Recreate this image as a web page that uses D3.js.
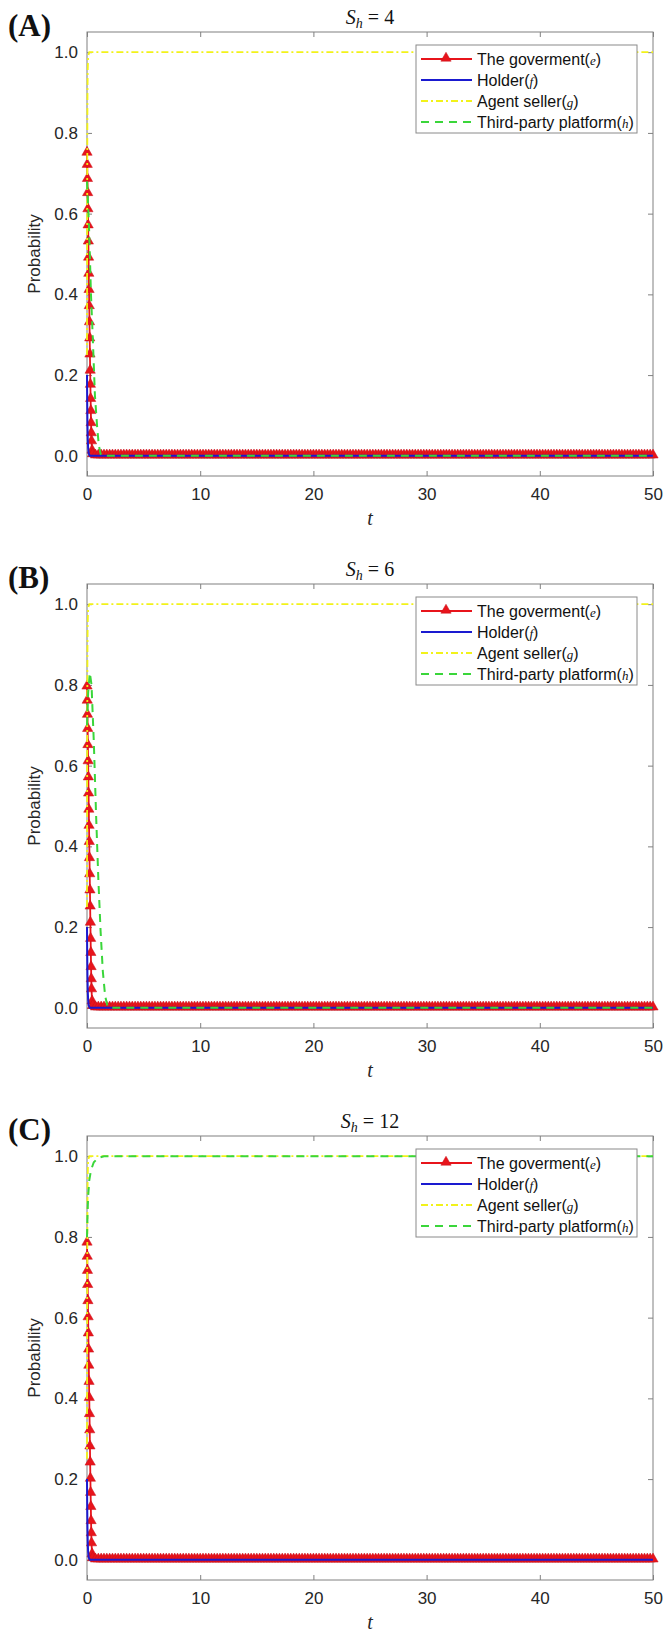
<!DOCTYPE html>
<html>
<head>
<meta charset="utf-8">
<script src="https://cdn.jsdelivr.net/npm/d3@7"></script>
<style>
  body { margin: 0; background: #fff; }
  svg { display: block; }
</style>
</head>
<body>
<div id="chart"></div>
<script>
// panel labels and parameter values
const panelNames = ["(A)", "(B)", "(C)"];
const shValues = [4, 6, 12];

const xTicks = [0, 10, 20, 30, 40, 50];
const yTicks = [0, 0.2, 0.4, 0.6, 0.8, 1.0];

const seriesNames = ["The goverment", "Holder", "Agent seller", "Third-party platform"];
const seriesVars = ["e", "f", "g", "h"];

// the goverment (e): steep start, then sits on zero until t = 50
const govHeadT = [0, 0.02, 0.04, 0.06, 0.08, 0.1, 0.12, 0.14, 0.16, 0.18, 0.2, 0.22,
                  0.24, 0.26, 0.28, 0.3, 0.32, 0.34, 0.36, 0.38, 0.4, 0.45, 0.5];
const govHeadA = [0.75, 0.72, 0.685, 0.65, 0.61, 0.57, 0.53, 0.49, 0.45, 0.41, 0.37, 0.33,
                  0.29, 0.25, 0.21, 0.175, 0.14, 0.11, 0.08, 0.055, 0.035, 0.012, 0.003];
const govHeadB = [0.795, 0.76, 0.725, 0.69, 0.65, 0.61, 0.57, 0.53, 0.49, 0.45, 0.41, 0.37,
                  0.33, 0.29, 0.25, 0.21, 0.17, 0.135, 0.1, 0.07, 0.045, 0.015, 0.004];
const govHeadC = [0.785, 0.75, 0.715, 0.68, 0.64, 0.6, 0.56, 0.52, 0.48, 0.44, 0.4, 0.36,
                  0.32, 0.28, 0.24, 0.2, 0.165, 0.13, 0.095, 0.065, 0.04, 0.013, 0.003];
const govTailT = [
  0.75, 1, 1.25, 1.5, 1.75, 2, 2.25, 2.5, 2.75, 3, 3.25, 3.5, 3.75, 4, 4.25, 4.5, 4.75, 5,
  5.25, 5.5, 5.75, 6, 6.25, 6.5, 6.75, 7, 7.25, 7.5, 7.75, 8, 8.25, 8.5, 8.75, 9, 9.25, 9.5, 9.75, 10,
  10.25, 10.5, 10.75, 11, 11.25, 11.5, 11.75, 12, 12.25, 12.5, 12.75, 13, 13.25, 13.5, 13.75, 14,
  14.25, 14.5, 14.75, 15, 15.25, 15.5, 15.75, 16, 16.25, 16.5, 16.75, 17, 17.25, 17.5, 17.75, 18,
  18.25, 18.5, 18.75, 19, 19.25, 19.5, 19.75, 20,
  20.25, 20.5, 20.75, 21, 21.25, 21.5, 21.75, 22, 22.25, 22.5, 22.75, 23, 23.25, 23.5, 23.75, 24,
  24.25, 24.5, 24.75, 25, 25.25, 25.5, 25.75, 26, 26.25, 26.5, 26.75, 27, 27.25, 27.5, 27.75, 28,
  28.25, 28.5, 28.75, 29, 29.25, 29.5, 29.75, 30,
  30.25, 30.5, 30.75, 31, 31.25, 31.5, 31.75, 32, 32.25, 32.5, 32.75, 33, 33.25, 33.5, 33.75, 34,
  34.25, 34.5, 34.75, 35, 35.25, 35.5, 35.75, 36, 36.25, 36.5, 36.75, 37, 37.25, 37.5, 37.75, 38,
  38.25, 38.5, 38.75, 39, 39.25, 39.5, 39.75, 40,
  40.25, 40.5, 40.75, 41, 41.25, 41.5, 41.75, 42, 42.25, 42.5, 42.75, 43, 43.25, 43.5, 43.75, 44,
  44.25, 44.5, 44.75, 45, 45.25, 45.5, 45.75, 46, 46.25, 46.5, 46.75, 47, 47.25, 47.5, 47.75, 48,
  48.25, 48.5, 48.75, 49, 49.25, 49.5, 49.75, 50
];
const govTailValue = 0;

// holder (f)
const holderT = [0, 0.02, 0.04, 0.07, 0.1, 0.15, 0.25, 50];
const holderA = [0.2, 0.13, 0.08, 0.04, 0.02, 0.006, 0, 0];
const holderB = [0.2, 0.13, 0.08, 0.04, 0.02, 0.006, 0, 0];
const holderC = [0.2, 0.13, 0.08, 0.04, 0.02, 0.006, 0, 0];

// agent seller (g)
const agentT = [0, 0.01, 0.02, 0.04, 0.06, 0.1, 0.2, 50];
const agentA = [0.25, 0.5, 0.7, 0.88, 0.95, 0.99, 1, 1];
const agentB = [0.25, 0.5, 0.7, 0.88, 0.95, 0.99, 1, 1];
const agentC = [0.25, 0.5, 0.7, 0.88, 0.95, 0.99, 1, 1];

// third-party platform (h)
const platformTA = [0, 0.1, 0.2, 0.35, 0.5, 0.7, 0.9, 1.05, 1.2, 1.4, 50];
const platformA  = [0.68, 0.62, 0.55, 0.4, 0.3, 0.15, 0.07, 0.025, 0.005, 0, 0];
const platformTB = [0, 0.1, 0.25, 0.4, 0.6, 0.8, 1.0, 1.2, 1.4, 1.6, 1.8, 2.0, 50];
const platformB  = [0.7, 0.78, 0.83, 0.8, 0.66, 0.48, 0.32, 0.19, 0.09, 0.03, 0.005, 0, 0];
const platformTC = [0, 0.05, 0.1, 0.2, 0.35, 0.6, 1.0, 1.5, 50];
const platformC  = [0.8, 0.86, 0.9, 0.94, 0.965, 0.985, 0.996, 1, 1];

const colors = ["#e8141b", "#1a1ad0", "#f2f21a", "#3ad63a"];

const zip = (ts, vs) => ts.map((t, i) => ({ t: t, v: vs[i] }));

const panels = [
  { gov: govHeadA, holder: holderA, agent: agentA, platT: platformTA, plat: platformA },
  { gov: govHeadB, holder: holderB, agent: agentB, platT: platformTB, plat: platformB },
  { gov: govHeadC, holder: holderC, agent: agentC, platT: platformTC, plat: platformC }
];

const width = 667, height = 1637;
const plotLeft = 87, plotW = 566, plotH = 444;
const panelTops = [32, 584, 1136];

const svg = d3.select("#chart").append("svg")
  .attr("width", width)
  .attr("height", height);

svg.append("rect").attr("width", width).attr("height", height).attr("fill", "#fff");

const x = d3.scaleLinear().domain([0, 50]).range([plotLeft, plotLeft + plotW]);

const tri = d3.symbol().type(d3.symbolTriangle).size(46);

panels.forEach((p, k) => {
  const top = panelTops[k];
  const y = d3.scaleLinear().domain([-0.05, 1.05]).range([top + plotH, top]);
  const g = svg.append("g");

  // axes
  const bottomAxis = d3.axisBottom(x).tickValues(xTicks).tickSizeInner(-5).tickSizeOuter(0).tickPadding(12);
  const topAxis = d3.axisTop(x).tickValues(xTicks).tickSizeInner(-5).tickSizeOuter(0).tickFormat("");
  const leftAxis = d3.axisLeft(y).tickValues(yTicks).tickSizeInner(-5).tickSizeOuter(0).tickPadding(9)
    .tickFormat(d3.format(".1f"));
  const rightAxis = d3.axisRight(y).tickValues(yTicks).tickSizeInner(-5).tickSizeOuter(0).tickFormat("");

  g.append("g").attr("transform", "translate(0," + (top + plotH) + ")").call(bottomAxis);
  g.append("g").attr("transform", "translate(0," + top + ")").call(topAxis);
  g.append("g").attr("transform", "translate(" + plotLeft + ",0)").call(leftAxis);
  g.append("g").attr("transform", "translate(" + (plotLeft + plotW) + ",0)").call(rightAxis);

  g.selectAll(".domain").remove();
  g.selectAll(".tick line").attr("stroke", "#808080");
  g.selectAll(".tick text")
    .attr("fill", "#262626")
    .style("font-family", "'Liberation Sans', Arial, sans-serif")
    .style("font-size", "17px");

  g.append("rect")
    .attr("x", plotLeft).attr("y", top)
    .attr("width", plotW).attr("height", plotH)
    .attr("fill", "none").attr("stroke", "#808080").attr("stroke-width", 1);

  const line = d3.line().x(d => x(d.t)).y(d => y(d.v));

  // the goverment
  const govData = zip(govHeadT, p.gov).concat(govTailT.map(t => ({ t: t, v: govTailValue })));
  g.append("path").datum(govData).attr("d", line)
    .attr("fill", "none").attr("stroke", colors[0]).attr("stroke-width", 1.8);
  g.selectAll(".gm").data(govData).enter().append("path")
    .attr("d", tri)
    .attr("transform", d => "translate(" + x(d.t) + "," + (y(d.v) - 0.8) + ")")
    .attr("fill", colors[0]).attr("stroke", "#c8101a").attr("stroke-width", 0.5);

  // holder
  g.append("path").datum(zip(holderT, p.holder)).attr("d", line)
    .attr("fill", "none").attr("stroke", colors[1]).attr("stroke-width", 2);

  // agent seller
  g.append("path").datum(zip(agentT, p.agent)).attr("d", line)
    .attr("fill", "none").attr("stroke", colors[2]).attr("stroke-width", 1.8)
    .attr("stroke-dasharray", "7,3,2,3");

  // third-party platform
  g.append("path").datum(zip(p.platT, p.plat)).attr("d", line)
    .attr("fill", "none").attr("stroke", colors[3]).attr("stroke-width", 2)
    .attr("stroke-dasharray", "8,6");

  // panel letter and title
  g.append("text")
    .attr("x", 8).attr("y", top + 4)
    .style("font-family", "'Liberation Serif', 'Times New Roman', serif")
    .style("font-weight", "bold").style("font-size", "31px")
    .attr("fill", "#111")
    .text(panelNames[k]);

  const title = g.append("text")
    .attr("x", plotLeft + plotW / 2).attr("y", top - 8)
    .attr("text-anchor", "middle")
    .style("font-family", "'Liberation Serif', 'Times New Roman', serif")
    .style("font-size", "20px")
    .attr("fill", "#111");
  title.append("tspan").style("font-style", "italic").text("S");
  title.append("tspan").style("font-style", "italic").style("font-size", "14px").attr("dy", 4).text("h");
  title.append("tspan").attr("dy", -4).text(" = " + shValues[k]);

  // axis labels
  g.append("text")
    .attr("transform", "translate(40," + (top + plotH / 2) + ") rotate(-90)")
    .attr("text-anchor", "middle")
    .style("font-family", "'Liberation Sans', Arial, sans-serif")
    .style("font-size", "17px")
    .attr("fill", "#262626")
    .text("Probability");

  g.append("text")
    .attr("x", plotLeft + plotW / 2).attr("y", top + plotH + 49)
    .attr("text-anchor", "middle")
    .style("font-family", "'Liberation Serif', 'Times New Roman', serif")
    .style("font-style", "italic").style("font-size", "20px")
    .attr("fill", "#262626")
    .text("t");

  // legend
  const lg = g.append("g").attr("transform", "translate(416," + (top + 13) + ")");
  lg.append("rect").attr("width", 221).attr("height", 88)
    .attr("fill", "#fff").attr("stroke", "#8a8a8a").attr("stroke-width", 1);

  seriesNames.forEach((name, i) => {
    const ly = 14 + i * 21;
    const sample = lg.append("line")
      .attr("x1", 5).attr("x2", 56).attr("y1", ly).attr("y2", ly)
      .attr("stroke", colors[i]).attr("stroke-width", 2);
    if (i === 2) sample.attr("stroke-dasharray", "7,3,2,3");
    if (i === 3) sample.attr("stroke-dasharray", "8,6");
    if (i === 0) {
      lg.append("path").attr("d", tri)
        .attr("transform", "translate(30," + (ly - 0.8) + ")")
        .attr("fill", colors[0]).attr("stroke", "#c8101a").attr("stroke-width", 0.5);
    }
    const t = lg.append("text")
      .attr("x", 61).attr("y", ly + 5.5)
      .style("font-family", "'Liberation Sans', Arial, sans-serif")
      .style("font-size", "16px")
      .attr("fill", "#111");
    t.append("tspan").text(name + "(");
    t.append("tspan")
      .style("font-family", "'Liberation Serif', 'Times New Roman', serif")
      .style("font-style", "italic").style("font-size", "13px")
      .text(seriesVars[i]);
    t.append("tspan").text(")");
  });
});
</script>
</body>
</html>
